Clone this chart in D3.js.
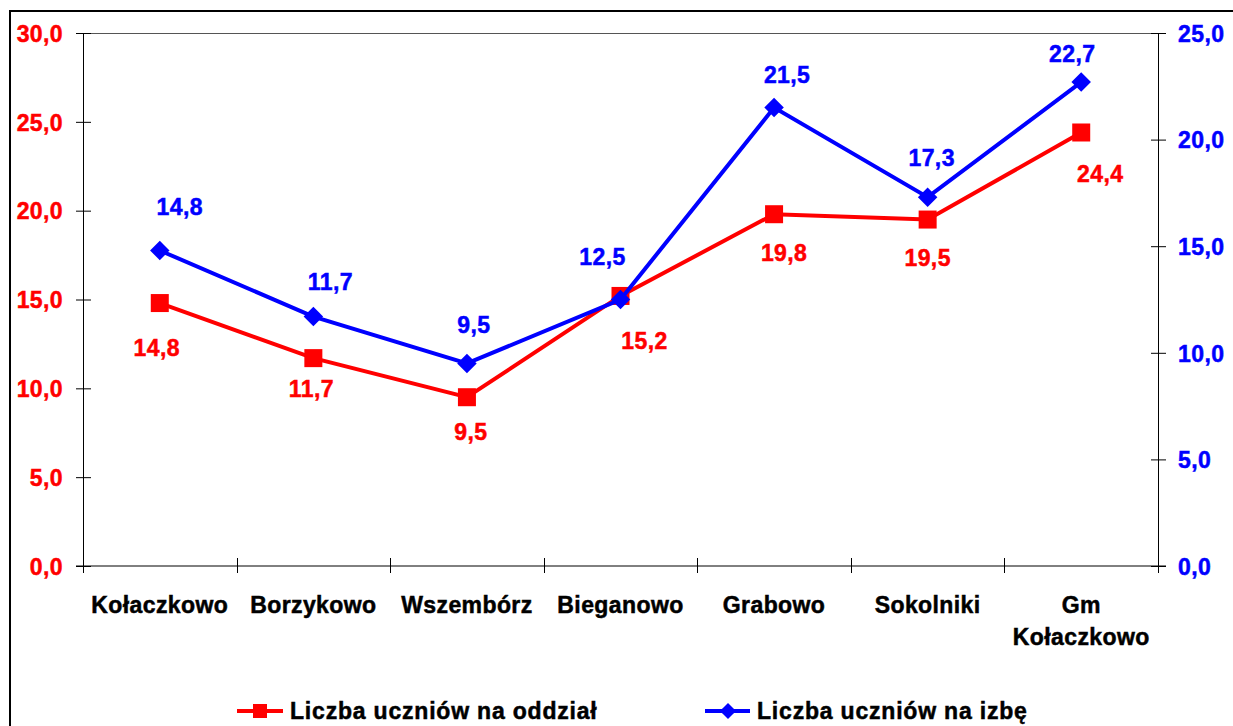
<!DOCTYPE html>
<html>
<head>
<meta charset="utf-8">
<script src="https://cdn.jsdelivr.net/npm/d3@7"></script>
<style>
  body { margin: 0; background: #fff; }
  text { font-family: "Liberation Sans", Arial, sans-serif; font-weight: bold; font-size: 23px; letter-spacing: 0.4px; stroke-width: 0.5px; }
  .legend text { letter-spacing: 0.8px; }
</style>
</head>
<body>
<div id="chart"></div>
<script>
const categories = ["Kołaczkowo", "Borzykowo", "Wszembórz", "Bieganowo", "Grabowo", "Sokolniki", "Gm\nKołaczkowo"];
const perClass = [14.8, 11.7, 9.5, 15.2, 19.8, 19.5, 24.4];   // Liczba uczniów na oddział (left axis)
const perRoom = [14.8, 11.7, 9.5, 12.5, 21.5, 17.3, 22.7];    // Liczba uczniów na izbę (right axis)
const leftTicks = [0, 5, 10, 15, 20, 25, 30];
const rightTicks = [0, 5, 10, 15, 20, 25];
const seriesNames = ["Liczba uczniów na oddział", "Liczba uczniów na izbę"];

// hand-placed label offsets, like in the original sheet
const redLabelOff = [[-3, 45], [-2, 31], [4, 35], [24, 45], [10, 38], [0, 38], [19, 41]];
const blueLabelOff = [[20, -44], [17, -35], [7, -39], [-18, -43], [13, -33], [4, -39], [-9, -28]];

const width = 1233, height = 726;
const plotL = 83, plotR = 1158, plotT = 33, plotB = 566;
const red = "#ff0000", blue = "#0000ff";

const svg = d3.select("#chart").append("svg")
    .attr("width", width)
    .attr("height", height);

// outer chart border
svg.append("rect")
    .attr("x", 10).attr("y", 11)
    .attr("width", 1240).attr("height", 740)
    .attr("fill", "none")
    .attr("stroke", "#000")
    .attr("stroke-width", 2);

const x = d3.scaleBand().domain(categories).range([plotL, plotR]);
const yL = d3.scaleLinear().domain([0, 30]).range([plotB, plotT]);
const yR = d3.scaleLinear().domain([0, 25]).range([plotB, plotT]);
const cx = d => x(d) + x.bandwidth() / 2;
const fmt = d => d3.format(".1f")(d).replace(".", ",");

// top border of plot area
svg.append("line")
    .attr("x1", 76).attr("x2", plotR)
    .attr("y1", plotT + 0.5).attr("y2", plotT + 0.5)
    .attr("stroke", "#555").attr("stroke-width", 1);

// left axis
const gL = svg.append("g").attr("transform", `translate(${plotL},0)`)
    .call(d3.axisLeft(yL).tickValues(leftTicks).tickSize(0).tickFormat(fmt));
gL.attr("font-size", null).attr("font-family", null);
gL.select(".domain").attr("stroke", "#000");
gL.selectAll(".tick line").attr("x1", -7).attr("x2", 8).attr("stroke", "#000");
gL.selectAll(".tick text").attr("x", -20).attr("dy", "0.36em").attr("fill", red).attr("stroke", red);

// right axis
const gR = svg.append("g").attr("transform", `translate(${plotR},0)`)
    .call(d3.axisRight(yR).tickValues(rightTicks).tickSize(0).tickFormat(fmt));
gR.attr("font-size", null).attr("font-family", null);
gR.select(".domain").attr("stroke", "#000");
gR.selectAll(".tick line").attr("x1", -7).attr("x2", 8).attr("stroke", "#000");
gR.selectAll(".tick text").attr("x", 20).attr("dy", "0.36em").attr("fill", blue).attr("stroke", blue);

// bottom axis with ticks between categories
svg.append("line")
    .attr("x1", 76).attr("x2", plotR + 8)
    .attr("y1", plotB).attr("y2", plotB)
    .attr("stroke", "#000");
const bounds = categories.map(d => x(d)).concat([plotR]);
svg.append("g").selectAll("line")
    .data(bounds)
    .join("line")
    .attr("x1", d => Math.round(d) + 0.5).attr("x2", d => Math.round(d) + 0.5)
    .attr("y1", plotB - 8).attr("y2", plotB + 7)
    .attr("stroke", "#000");

const catText = svg.append("g").selectAll("text")
    .data(categories)
    .join("text")
    .attr("x", d => cx(d))
    .attr("y", 613)
    .attr("text-anchor", "middle")
    .attr("fill", "#000").attr("stroke", "#000");
catText.selectAll("tspan")
    .data(d => d.split("\n").map(t => ({ t, c: d })))
    .join("tspan")
    .attr("x", d => cx(d.c))
    .attr("dy", (d, i) => i === 0 ? 0 : 32)
    .text(d => d.t);

// lines
const lineL = d3.line().x((d, i) => cx(categories[i])).y(d => yL(d));
const lineR = d3.line().x((d, i) => cx(categories[i])).y(d => yR(d));

svg.append("path").datum(perClass)
    .attr("d", lineL).attr("fill", "none")
    .attr("stroke", red).attr("stroke-width", 4);
svg.append("g").selectAll("rect")
    .data(perClass)
    .join("rect")
    .attr("x", (d, i) => cx(categories[i]) - 9)
    .attr("y", d => yL(d) - 9)
    .attr("width", 18).attr("height", 18)
    .attr("fill", red);

svg.append("path").datum(perRoom)
    .attr("d", lineR).attr("fill", "none")
    .attr("stroke", blue).attr("stroke-width", 4);
const diamond = d3.symbol().type(d3.symbolSquare).size(190);
svg.append("g").selectAll("path")
    .data(perRoom)
    .join("path")
    .attr("d", diamond)
    .attr("transform", (d, i) => `translate(${cx(categories[i])},${yR(d)}) rotate(45)`)
    .attr("fill", blue);

// data labels
svg.append("g").selectAll("text")
    .data(perClass)
    .join("text")
    .attr("x", (d, i) => cx(categories[i]) + redLabelOff[i][0])
    .attr("y", (d, i) => yL(d) + redLabelOff[i][1])
    .attr("dy", "0.36em")
    .attr("text-anchor", "middle")
    .attr("fill", red).attr("stroke", red)
    .text(fmt);
svg.append("g").selectAll("text")
    .data(perRoom)
    .join("text")
    .attr("x", (d, i) => cx(categories[i]) + blueLabelOff[i][0])
    .attr("y", (d, i) => yR(d) + blueLabelOff[i][1])
    .attr("dy", "0.36em")
    .attr("text-anchor", "middle")
    .attr("fill", blue).attr("stroke", blue)
    .text(fmt);

// legend
const legend = svg.append("g").attr("class", "legend");
const legY = 711;
const l1 = legend.append("g").attr("transform", "translate(237,0)");
l1.append("line").attr("x1", 0).attr("x2", 46).attr("y1", legY).attr("y2", legY)
    .attr("stroke", red).attr("stroke-width", 4);
l1.append("rect").attr("x", 16).attr("y", legY - 7).attr("width", 14).attr("height", 14).attr("fill", red);
l1.append("text").attr("x", 53).attr("y", legY).attr("dy", "0.36em")
    .attr("fill", "#000").attr("stroke", "#000").text(seriesNames[0]);

const l2 = legend.append("g").attr("transform", "translate(705,0)");
l2.append("line").attr("x1", 0).attr("x2", 45).attr("y1", legY).attr("y2", legY)
    .attr("stroke", blue).attr("stroke-width", 4);
l2.append("path").attr("d", d3.symbol().type(d3.symbolSquare).size(130))
    .attr("transform", `translate(23,${legY}) rotate(45)`).attr("fill", blue);
l2.append("text").attr("x", 52).attr("y", legY).attr("dy", "0.36em")
    .attr("fill", "#000").attr("stroke", "#000").text(seriesNames[1]);
</script>
</body>
</html>
